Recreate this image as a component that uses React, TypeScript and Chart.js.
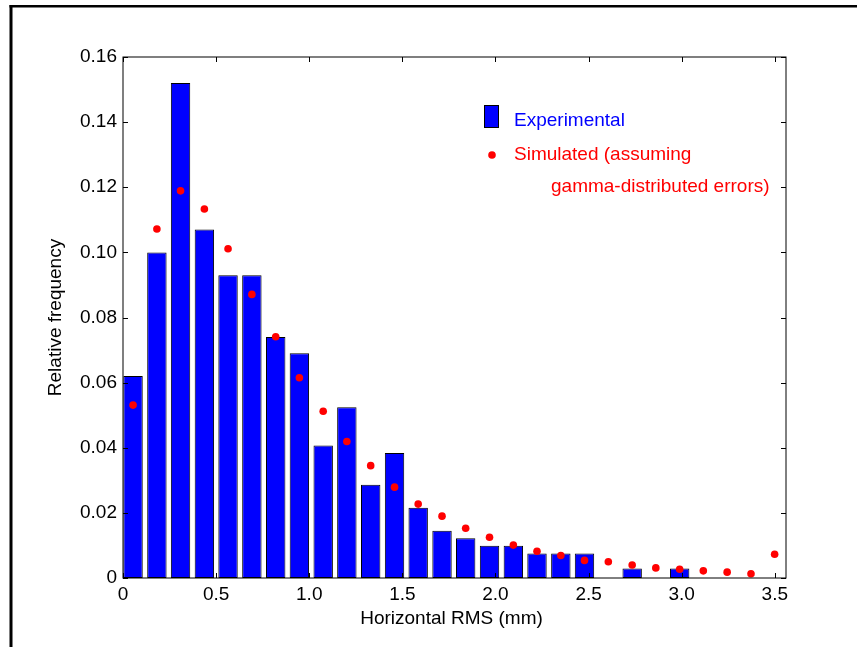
import React, { useEffect, useRef } from 'react';
import { Chart, registerables } from 'chart.js';

Chart.register(...registerables);

// Bin centres (mm) of the histogram
const binCenters = [
  0.054, 0.182, 0.309, 0.437, 0.564, 0.692, 0.82, 0.947, 1.075, 1.202,
  1.33, 1.458, 1.585, 1.713, 1.84, 1.968, 2.096, 2.223, 2.351, 2.478,
  2.606, 2.734, 2.861, 2.989, 3.116, 3.244, 3.372, 3.499,
];

// Experimental relative frequency (bars)
const experimental = [
  0.062, 0.1, 0.152, 0.107, 0.093, 0.093, 0.074, 0.069, 0.0407, 0.0524,
  0.0286, 0.0384, 0.0216, 0.0145, 0.0122, 0.0099, 0.0099, 0.0075, 0.0075, 0.0075,
  0, 0.0029, 0, 0.0029, 0, 0, 0, 0,
];

// Simulated relative frequency (dots)
const simulated = [
  0.0531, 0.1072, 0.1189, 0.1133, 0.1011, 0.0871, 0.0741, 0.0615, 0.0512, 0.0419,
  0.0345, 0.0279, 0.0227, 0.019, 0.0153, 0.0125, 0.0101, 0.0082, 0.0069, 0.0054,
  0.005, 0.004, 0.0031, 0.0027, 0.0022, 0.0018, 0.0013, 0.0073,
];

const xTickValues = [0, 0.5, 1.0, 1.5, 2.0, 2.5, 3.0, 3.5];
const xTickLabels = ['0', '0.5', '1.0', '1.5', '2.0', '2.5', '3.0', '3.5'];
const yTickValues = [0, 0.02, 0.04, 0.06, 0.08, 0.1, 0.12, 0.14, 0.16];
const yTickLabels = ['0', '0.02', '0.04', '0.06', '0.08', '0.10', '0.12', '0.14', '0.16'];

const xTitle = 'Horizontal RMS (mm)';
const yTitle = 'Relative frequency';
const legendExp = 'Experimental';
const legendSim1 = 'Simulated (assuming';
const legendSim2 = 'gamma-distributed errors)';

const FONT = "'Liberation Sans', Arial, Helvetica, sans-serif";
const FS = 19;

const labelFor = (vals: number[], labels: string[], v: number) => {
  const i = vals.findIndex((t) => Math.abs(t - v) < 1e-9);
  return i >= 0 ? labels[i] : '';
};

const framePlugin = {
  id: 'matlabFrame',
  afterDraw(chart: any) {
    const { ctx, chartArea: a, scales } = chart;
    const x = scales.x;
    const y = scales.y;
    ctx.save();
    // outer figure frame (top and left edges)
    ctx.fillStyle = '#000';
    ctx.fillRect(9.5, 5, 857, 2.5);
    ctx.fillRect(9.5, 5, 3, 647);

    // axes box
    ctx.strokeStyle = '#000';
    ctx.lineWidth = 1;
    ctx.strokeRect(a.left, a.top, a.right - a.left, a.bottom - a.top);

    // inward ticks
    const TL = 5;
    ctx.beginPath();
    xTickValues.forEach((v) => {
      const px = Math.round(x.getPixelForValue(v)) + 0.5;
      ctx.moveTo(px, a.bottom);
      ctx.lineTo(px, a.bottom - TL);
      ctx.moveTo(px, a.top);
      ctx.lineTo(px, a.top + TL);
    });
    yTickValues.forEach((v) => {
      const py = Math.round(y.getPixelForValue(v)) + 0.5;
      ctx.moveTo(a.left, py);
      ctx.lineTo(a.left + TL, py);
      ctx.moveTo(a.right, py);
      ctx.lineTo(a.right - TL, py);
    });
    ctx.stroke();

    // axis titles
    ctx.fillStyle = '#000';
    ctx.font = `${FS}px ${FONT}`;
    ctx.textAlign = 'center';
    ctx.textBaseline = 'middle';
    ctx.fillText(xTitle, (a.left + a.right) / 2 - 3, 619);
    ctx.save();
    ctx.translate(56, (a.top + a.bottom) / 2);
    ctx.rotate(-Math.PI / 2);
    ctx.fillText(yTitle, 0, 0);
    ctx.restore();

    // legend
    ctx.fillStyle = '#0000FF';
    ctx.fillRect(484, 105, 14, 23);
    ctx.strokeStyle = '#000';
    ctx.lineWidth = 1;
    ctx.strokeRect(484.5, 105.5, 14, 22);
    ctx.textAlign = 'left';
    ctx.textBaseline = 'alphabetic';
    ctx.fillStyle = '#0000FF';
    ctx.fillText(legendExp, 514, 126);
    ctx.fillStyle = '#FF0000';
    ctx.beginPath();
    ctx.arc(492, 155, 3.8, 0, Math.PI * 2);
    ctx.fill();
    ctx.fillText(legendSim1, 514, 160);
    ctx.fillText(legendSim2, 551, 192);
    ctx.restore();
  },
};

export default function App() {
  const ref = useRef<HTMLCanvasElement | null>(null);

  useEffect(() => {
    if (!ref.current) return;
    Chart.defaults.font.family = FONT;
    const chart = new Chart(ref.current, {
      type: 'bar',
      data: {
        datasets: [
          {
            type: 'scatter',
            label: 'Simulated',
            data: binCenters.map((c, i) => ({ x: c, y: simulated[i] })),
            backgroundColor: '#FF0000',
            borderWidth: 0,
            pointRadius: 3.8,
            showLine: false,
            order: 0,
          } as any,
          {
            type: 'bar',
            label: 'Experimental',
            data: binCenters.map((c, i) => ({ x: c, y: experimental[i] })),
            backgroundColor: '#0000FF',
            borderColor: '#000000',
            borderWidth: 1,
            borderSkipped: false,
            barPercentage: 1.0,
            categoryPercentage: 0.82,
            order: 1,
          } as any,
        ],
      },
      options: {
        animation: false,
        responsive: false,
        devicePixelRatio: 1,
        layout: { padding: { top: 57, right: 71, left: 0, bottom: 0 } },
        plugins: { legend: { display: false }, tooltip: { enabled: false } },
        scales: {
          x: {
            type: 'linear',
            min: 0,
            max: 3.56,
            offset: false,
            grid: { display: false, drawTicks: false },
            border: { display: false },
            afterFit: (s: any) => {
              s.height = 69;
            },
            afterBuildTicks: (s: any) => {
              s.ticks = xTickValues.map((v) => ({ value: v }));
            },
            ticks: {
              includeBounds: false,
              autoSkip: false,
              maxRotation: 0,
              padding: 5,
              color: '#000',
              font: { size: FS, family: FONT },
              callback: (v: any) => labelFor(xTickValues, xTickLabels, Number(v)),
            },
          },
          y: {
            type: 'linear',
            min: 0,
            max: 0.16,
            grid: { display: false, drawTicks: false },
            border: { display: false },
            afterFit: (s: any) => {
              s.width = 123;
            },
            afterBuildTicks: (s: any) => {
              s.ticks = yTickValues.map((v) => ({ value: v }));
            },
            ticks: {
              autoSkip: false,
              padding: 6,
              color: '#000',
              font: { size: FS, family: FONT },
              callback: (v: any) => labelFor(yTickValues, yTickLabels, Number(v)),
            },
          },
        },
      },
      plugins: [framePlugin],
    });
    return () => chart.destroy();
  }, []);

  return (
    <div style={{ position: 'fixed', left: 0, top: 0, width: 857, height: 647, background: '#fff' }}>
      <canvas ref={ref} width={857} height={647} style={{ display: 'block', width: 857, height: 647 }} />
    </div>
  );
}
